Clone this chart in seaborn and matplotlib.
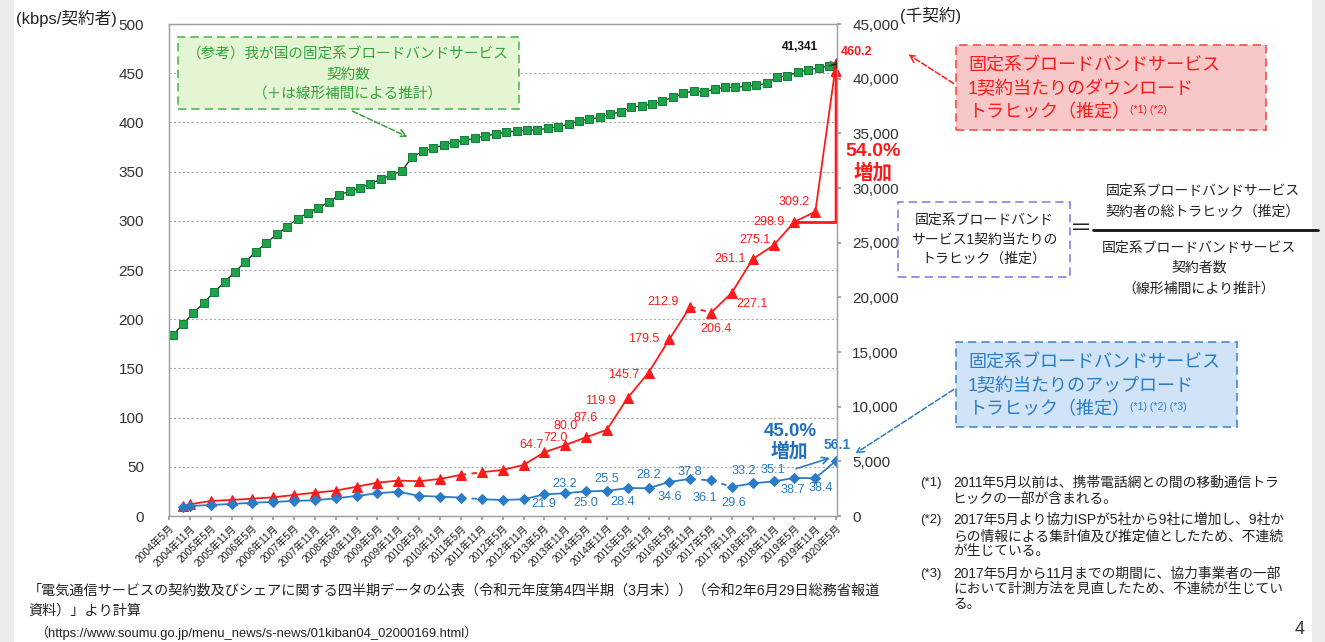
import pandas as pd
import seaborn as sns
import matplotlib.pyplot as plt
from matplotlib.patches import Rectangle, FancyArrowPatch
from matplotlib.text import Annotation
from matplotlib.ticker import FuncFormatter

# ---- data ----
tick_labels = ['2004年5月', '2004年11月', '2005年5月', '2005年11月', '2006年5月', '2006年11月',
               '2007年5月', '2007年11月', '2008年5月', '2008年11月', '2009年5月', '2009年11月',
               '2010年5月', '2010年11月', '2011年5月', '2011年11月', '2012年5月', '2012年11月',
               '2013年5月', '2013年11月', '2014年5月', '2014年11月', '2015年5月', '2015年11月',
               '2016年5月', '2016年11月', '2017年5月', '2017年11月', '2018年5月', '2018年11月',
               '2019年5月', '2019年11月', '2020年5月']

# traffic is measured in 2004年9月, 2004年11月, then every May / November
traffic_months = ['2004年9月'] + tick_labels[1:]

# kbps per contract
download_kbps = [10.3, 11.9, 15.3, 16.3, 17.6, 19.0, 21.4, 23.7, 25.8, 29.8, 33.9, 36.0,
                 35.3, 37.7, 41.8, 44.5, 46.8, 51.9, 64.7, 72.0, 80.0, 87.6, 119.9, 145.7,
                 179.5, 212.9, 206.4, 227.1, 261.1, 275.1, 298.9, 309.2, 460.2]
upload_kbps = [9.2, 10.2, 11.2, 12.2, 13.5, 14.3, 15.3, 16.0, 18.0, 20.4, 23.1, 24.7,
               20.4, 19.7, 18.7, 17.0, 16.3, 17.0, 21.9, 23.2, 25.0, 25.5, 28.4, 28.2,
               34.6, 37.8, 36.1, 29.6, 33.2, 35.1, 38.7, 38.4, 56.1]

# broadband contracts (thousand), quarterly 2004年6月 .. 2020年3月
contract_months = pd.date_range('2004-06-01', '2020-03-01', freq='3MS')
contracts_k = [16520, 17570, 18580, 19490, 20470, 21420, 22340, 23260, 24170, 24990,
               25760, 26460, 27190, 27740, 28200, 28710, 29360, 29720, 30030, 30400,
               30800, 31190, 31550, 32840, 33340, 33630, 33940, 34160, 34370, 34550,
               34770, 34920, 35140, 35220, 35300, 35320, 35460, 35600, 35840, 36140,
               36300, 36450, 36760, 36960, 37370, 37510, 37670, 37970, 38280, 38650,
               38890, 38800, 39040, 39200, 39200, 39290, 39410, 39560, 40150, 40270,
               40570, 40820, 40970, 41180]
contracts_last_month = '2020年5月'
contracts_last_k = 41341


def to_date(label):
    return pd.to_datetime(label.replace('年', '-').replace('月', ''), format='%Y-%m')


tick_dt = [to_date(s) for s in tick_labels]
traffic_dt = pd.Series([to_date(s) for s in traffic_months])
down = pd.Series(download_kbps)
up = pd.Series(upload_kbps)

W, H = 1325, 642
sns.set_theme(style='white')
plt.rcParams['font.family'] = ['Liberation Sans', 'Noto Sans CJK JP', 'DejaVu Sans']

fig = plt.figure(figsize=(W / 100, H / 100), dpi=100)
fig.patch.set_facecolor('white')
ax1 = fig.add_axes([169 / W, 1 - 516 / H, (837 - 169) / W, (516 - 24) / H])
ax2 = ax1.twinx()


def px(x, y):
    return x / W, 1 - y / H


def ftext(x, y, s, **kw):
    kw.setdefault('va', 'center')
    return fig.text(*px(x, y), s, **kw)


def fbox(x0, y0, x1, y1, fc, ec):
    fig.add_artist(Rectangle(px(x0, y1), (x1 - x0) / W, (y1 - y0) / H, transform=fig.transFigure,
                             fc=fc, ec=ec, lw=1.2, ls=(0, (5, 3))))


def farrow(x0, y0, x1, y1, color, ls='--'):
    fig.add_artist(FancyArrowPatch(px(x0, y0), px(x1, y1), transform=fig.transFigure,
                                   arrowstyle='->', mutation_scale=13, color=color, lw=1.1,
                                   linestyle=ls))


def superscript(anchor, s, color):
    # small note marks right after the last line of a box text
    fig.add_artist(Annotation(s, xy=(1.0, 0.95), xycoords=anchor, fontsize=7.5, color=color,
                              ha='left', va='top'))


# grey slide margins
fig.add_artist(Rectangle((0, 0), 14 / W, 1, transform=fig.transFigure, fc='#ebebeb', ec='none'))
fig.add_artist(Rectangle((1312 / W, 0), 13 / W, 1, transform=fig.transFigure, fc='#ebebeb', ec='none'))

# ---- traffic series (left axis) ----
RED = '#ff1a1a'
BLUE = '#2a7cc6'


def draw_traffic(vals, color, marker, ms, runs, dashed):
    for a, b in runs:
        sns.lineplot(x=traffic_dt[a:b], y=vals[a:b], ax=ax1, color=color, lw=1.3, marker=marker,
                     markersize=ms, markeredgecolor=color, estimator=None, sort=False, legend=False)
    for a, b in dashed:
        ax1.plot(traffic_dt[[a, b]], vals[[a, b]], color=color, lw=1.3, ls=(0, (3, 3)))


draw_traffic(down, RED, '^', 7, [(0, 15), (15, 26), (26, 33)], [(14, 15), (25, 26)])
draw_traffic(up, BLUE, 'D', 5.5, [(0, 15), (15, 26), (26, 27), (27, 33)],
             [(14, 15), (25, 26), (26, 27)])

# ---- contracts (right axis) ----
sns.lineplot(x=contract_months, y=contracts_k, ax=ax2, color='#222222', lw=0.9, marker='s',
             markersize=6, markerfacecolor='#1fa34a', markeredgecolor='#16803a',
             estimator=None, sort=False, legend=False)
last_dt = to_date(contracts_last_month)
ax2.plot([contract_months[-1], last_dt], [contracts_k[-1], contracts_last_k], color='#222222', lw=0.9)
ax2.plot([last_dt], [contracts_last_k], marker='+', color='#222222', ms=6)
ax2.annotate(f'{contracts_last_k:,}', xy=(last_dt, contracts_last_k), xytext=(-36, 17),
             textcoords='offset pixels', ha='center', va='center', fontsize=8.5, fontweight='bold',
             color='#111111', annotation_clip=False,
             arrowprops=dict(arrowstyle='-', color='#777777', lw=0.8, shrinkA=8, shrinkB=2))

# ---- data labels ----
red_offsets = {18: (-13, 7), 19: (-10, 7), 20: (-20, 11), 21: (-21, 12), 22: (-27, -3),
               23: (-25, -2), 24: (-26, 0), 25: (-27, 5), 26: (5, -16), 27: (20, -11),
               28: (-23, 0), 29: (-19, 5), 30: (-25, 0), 31: (-21, 10)}
for i, (dx, dy) in red_offsets.items():
    ax1.annotate(f'{download_kbps[i]:.1f}', xy=(traffic_dt[i], download_kbps[i]), xytext=(dx, dy),
                 textcoords='offset pixels', ha='center', va='center', fontsize=9, color=RED)
ax1.annotate(f'{download_kbps[32]:.1f}', xy=(traffic_dt[32], download_kbps[32]), xytext=(20, 11),
             textcoords='offset pixels', ha='center', va='center', fontsize=9, color=RED,
             fontweight='bold', annotation_clip=False)

blue_offsets = {18: (0, -10), 19: (0, 9), 20: (0, -12), 21: (0, 12), 22: (-5, -14), 23: (0, 13),
                24: (0, -15), 25: (0, 7), 26: (-6, -18), 27: (2, -16), 28: (-9, 12), 29: (-1, 11),
                30: (-1, -12), 31: (5, -10)}
for i, (dx, dy) in blue_offsets.items():
    ax1.annotate(f'{upload_kbps[i]:.1f}', xy=(traffic_dt[i], upload_kbps[i]), xytext=(dx, dy),
                 textcoords='offset pixels', ha='center', va='center', fontsize=9.2, color=BLUE)
ax1.annotate(f'{upload_kbps[32]:.1f}', xy=(traffic_dt[32], upload_kbps[32]), xytext=(1, 16),
             textcoords='offset pixels', ha='center', va='center', fontsize=10, color=BLUE,
             fontweight='bold', annotation_clip=False)

# 54.0% bracket (2019年5月 -> 2020年5月)
ax1.plot([traffic_dt[30], traffic_dt[32]], [download_kbps[30], download_kbps[30]], color=RED,
         lw=2, clip_on=False)
ax1.annotate('', xy=(traffic_dt[32], download_kbps[32] - 2), xytext=(traffic_dt[32], download_kbps[30]),
             annotation_clip=False,
             arrowprops=dict(arrowstyle='-|>', color=RED, lw=2, shrinkA=0, shrinkB=0, mutation_scale=14))
# 45.0% arrow
ax1.annotate('', xy=(pd.Timestamp('2020-03-10'), 59), xytext=(pd.Timestamp('2019-05-15'), 48),
             annotation_clip=False,
             arrowprops=dict(arrowstyle='->', color=BLUE, lw=1.2, shrinkA=0, shrinkB=0))

# ---- axes styling ----
ax1.set_ylim(0, 500)
ax1.set_yticks(range(0, 501, 50))
ax2.set_ylim(0, 45000)
ax2.set_yticks(range(0, 45001, 5000))
ax2.yaxis.set_major_formatter(FuncFormatter(lambda v, p: f'{v:,.0f}'))
ax1.set_xlim(pd.Timestamp('2004-05-01'), pd.Timestamp('2020-05-09'))
ax1.set_xticks(tick_dt)
ax1.set_xticklabels(tick_labels, rotation=45, ha='right', rotation_mode='anchor', fontsize=7.4,
                    color='#222222')
ax1.tick_params(axis='x', bottom=True, length=3, color='#999999', pad=2)
ax1.tick_params(axis='y', left=False, pad=12, labelsize=11, labelcolor='#333333')
ax2.tick_params(axis='y', right=True, length=3, color='#999999', pad=8, labelsize=11,
                labelcolor='#333333')
ax1.yaxis.grid(True, color='#aaaaaa', ls=(0, (2, 2)), lw=0.8)
ax2.grid(False)
for a in (ax1, ax2):
    a.set_xlabel('')
    a.set_ylabel('')
    for sp in a.spines.values():
        sp.set_color('#a0a0a0')
        sp.set_linewidth(0.9)

ftext(16, 18, '(kbps/契約者)', fontsize=12, color='#222222')
ftext(900, 15, '(千契約)', fontsize=12, color='#222222')

# ---- in-chart annotations ----
ftext(873, 152, '54.0%', fontsize=14, fontweight='bold', color=RED, ha='center')
ftext(873, 173, '増加', fontsize=14, fontweight='bold', color=RED, ha='center')
ftext(790, 431, '45.0%', fontsize=13.5, fontweight='bold', color='#1f70c1', ha='center')
ftext(789, 451, '増加', fontsize=13.5, fontweight='bold', color='#1f70c1', ha='center')

# green reference box
GREEN = '#36a23a'
fbox(178, 37, 519, 109, '#e3f5d3', '#55b855')
for y, s in [(55, '（参考）我が国の固定系ブロードバンドサービス'), (75, '契約数'),
             (95, '（＋は線形補間による推計）')]:
    ftext(348, y, s, fontsize=10.5, color=GREEN, ha='center')
farrow(350, 110, 410, 138, GREEN)

# red (download) box
fbox(956, 45, 1266, 130, '#f8c8c8', '#ff4a4a')
ftext(968, 65, '固定系ブロードバンドサービス', fontsize=13, color=RED)
ftext(968, 89, '1契約当たりのダウンロード', fontsize=13, color=RED)
t_red = ftext(968, 113, 'トラヒック（推定）', fontsize=13, color=RED)
superscript(t_red, '(*1) (*2)', RED)
farrow(956, 85, 906, 53, RED)

# blue (upload) box
fbox(956, 342, 1237, 427, '#d0e3f7', '#4a8ad0')
ftext(968, 362, '固定系ブロードバンドサービス', fontsize=13, color=BLUE)
ftext(968, 387, '1契約当たりのアップロード', fontsize=13, color=BLUE)
t_blue = ftext(968, 410, 'トラヒック（推定）', fontsize=13, color=BLUE)
superscript(t_blue, '(*1) (*2) (*3)', BLUE)
farrow(956, 388, 853, 455, BLUE)

# definition formula
fbox(898, 202, 1070, 277, 'white', '#8a7cf0')
for y, s in [(220, '固定系ブロードバンド'), (240, 'サービス1契約当たりの'), (259, 'トラヒック（推定）')]:
    ftext(984, y, s, fontsize=10, color='#222222', ha='center')
ftext(1081, 230, '＝', fontsize=16, color='#222222', ha='center')
fig.add_artist(plt.Line2D([1093 / W, 1318 / W], [1 - 230 / H] * 2, transform=fig.transFigure,
                          color='#111111', lw=2))
for y, s in [(191, '固定系ブロードバンドサービス'), (212, '契約者の総トラヒック（推定）')]:
    ftext(1203, y, s, fontsize=10, color='#222222', ha='center')
for y, s in [(248, '固定系ブロードバンドサービス'), (268, '契約者数'), (289, '（線形補間により推計）')]:
    ftext(1199, y, s, fontsize=10, color='#222222', ha='center')

# footnotes
notes = [
    (483, '(*1)', '2011年5月以前は、携帯電話網との間の移動通信トラ'),
    (499, '', 'ヒックの一部が含まれる。'),
    (520, '(*2)', '2017年5月より協力ISPが5社から9社に増加し、9社か'),
    (536, '', 'らの情報による集計値及び推定値としたため、不連続'),
    (551, '', 'が生じている。'),
    (574, '(*3)', '2017年5月から11月までの期間に、協力事業者の一部'),
    (589, '', 'において計測方法を見直したため、不連続が生じてい'),
    (604, '', 'る。'),
]
for y, tag, s in notes:
    if tag:
        ftext(920, y, tag, fontsize=9.5, color='#222222')
    ftext(953, y, s, fontsize=9.9, color='#222222')

# source
ftext(28, 590, '「電気通信サービスの契約数及びシェアに関する四半期データの公表（令和元年度第4四半期（3月末））（令和2年6月29日総務省報道',
      fontsize=10.2, color='#222222')
ftext(28, 611, '資料）」より計算', fontsize=10.2, color='#222222')
ftext(36, 633, '（https://www.soumu.go.jp/menu_news/s-news/01kiban04_02000169.html）', fontsize=9.4,
      color='#222222')
ftext(1300, 630, '4', fontsize=13, color='#333333', ha='center')

fig.savefig('out.png', dpi=100)
